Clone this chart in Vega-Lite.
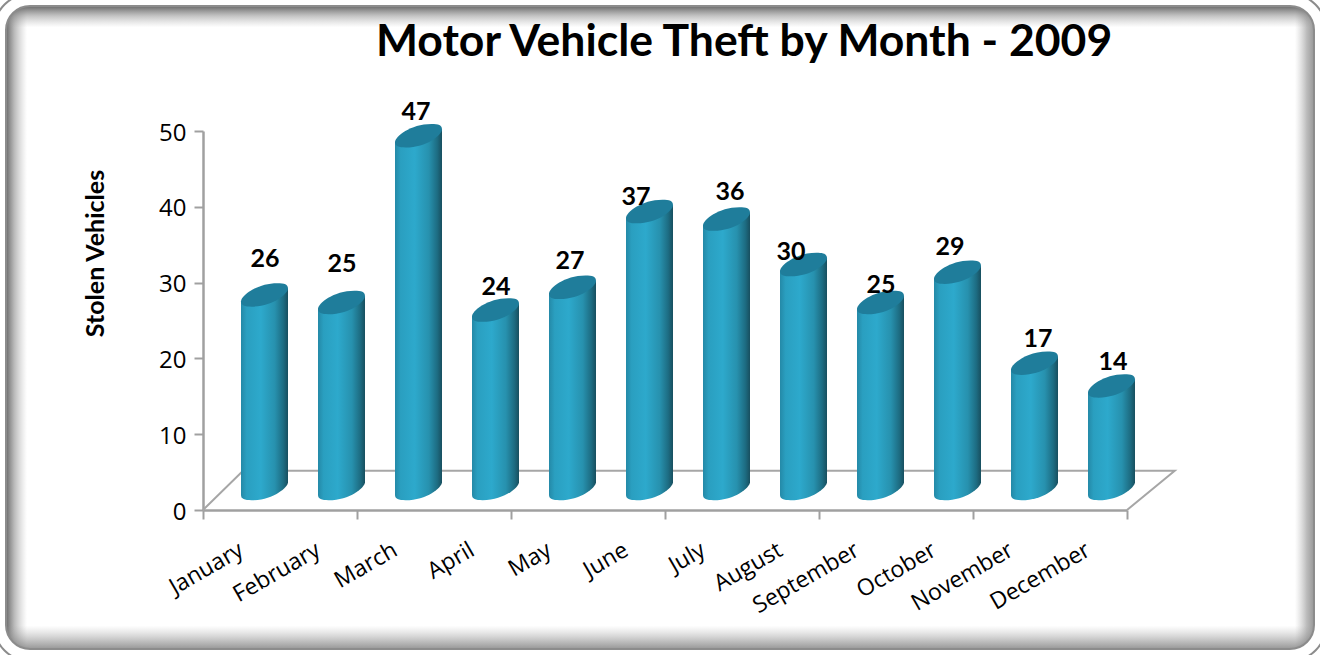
{"$schema":"https://vega.github.io/schema/vega-lite/v6.json","width":1320,"height":655,"padding":0,"autosize":{"type":"none"},"background":"#ffffff","config":{"view":{"stroke":null},"font":"Open Sans"},
"title":{"text":"Motor Vehicle Theft by Month - 2009","anchor":"start","frame":"group","dx":376,"offset":-72,"font":"Lato","fontWeight":"bold","fontSize":44.5,"color":"#000000"},
"data":{"values":[{"month":"January","stolen":26},{"month":"February","stolen":25},{"month":"March","stolen":47},{"month":"April","stolen":24},{"month":"May","stolen":27},{"month":"June","stolen":37},{"month":"July","stolen":36},{"month":"August","stolen":30},{"month":"September","stolen":25},{"month":"October","stolen":29},{"month":"November","stolen":17},{"month":"December","stolen":14}]},
"resolve":{"scale":{"x":"independent"},"axis":{"x":"independent","y":"independent"}},
"layer":[
{"data":{"values":[{}]},"mark":{"type":"rect","cornerRadius":30,"fill":{"gradient":"linear","x1":0,"x2":1,"y1":0,"y2":0,"stops":[{"offset":0,"color":"rgba(90,90,90,0.85)"},{"offset":0.0053,"color":"rgba(90,90,90,0.85)"},{"offset":0.011,"color":"rgba(120,120,120,0.5)"},{"offset":0.0205,"color":"rgba(160,160,160,0)"},{"offset":0.981,"color":"rgba(160,160,160,0)"},{"offset":0.99,"color":"rgba(120,120,120,0.5)"},{"offset":1,"color":"rgba(90,90,90,0.85)"}]}},"encoding":{}},
{"data":{"values":[{}]},"mark":{"type":"rect","cornerRadius":30,"fill":{"gradient":"linear","x1":0,"x2":0,"y1":0,"y2":1,"stops":[{"offset":0,"color":"rgba(90,90,90,0.85)"},{"offset":0.0107,"color":"rgba(90,90,90,0.85)"},{"offset":0.024,"color":"rgba(120,120,120,0.45)"},{"offset":0.042,"color":"rgba(160,160,160,0)"},{"offset":0.955,"color":"rgba(160,160,160,0)"},{"offset":0.98,"color":"rgba(120,120,120,0.5)"},{"offset":1,"color":"rgba(90,90,90,0.85)"}]}},"encoding":{}},
{"data":{"values":[{"corner":1,"across":0,"up":0},{"corner":2,"across":0.52,"up":5.18},{"corner":3,"across":12.62,"up":5.18},{"corner":4,"across":12,"up":0}]},"mark":{"type":"line","color":"#a6a6a6","strokeWidth":2},"encoding":{"order":{"field":"corner"},
"x":{"field":"across","type":"quantitative","scale":{"domain":[0,12],"range":[203,1127],"nice":false,"zero":false},"axis":{"orient":"bottom","offset":-145,"values":[0,2,4,6,8,10,12],"labels":false,"title":null,"grid":false,"domainColor":"#a0a0a0","domainWidth":2.5,"tickColor":"#a0a0a0","tickWidth":2,"tickSize":9}},
"y":{"field":"up","type":"quantitative","scale":{"domain":[0,50],"range":[510,131],"nice":false,"zero":false},"axis":{"orient":"left","offset":-203,"values":[0,10,20,30,40,50],"grid":false,"domainColor":"#a0a0a0","domainWidth":2.5,"tickColor":"#a0a0a0","tickWidth":2,"tickSize":9,"labelFont":"Open Sans","labelFontSize":24,"labelColor":"#000000","labelPadding":8,"labelOffset":2,"title":"Stolen Vehicles","titleFont":"Lato","titleFontWeight":"bold","titleFontSize":25,"titleColor":"#000000","titleAngle":-90,"titleX":-108,"titleY":253,"titleAlign":"center","titleBaseline":"middle"}}}},
{"mark":{"type":"bar","size":47,"xOffset":23,"yOffset":-9,"y2Offset":-33,"fill":{"gradient":"linear","x1":0,"x2":1,"y1":0,"y2":0,"stops":[{"offset":0,"color":"#2489a7"},{"offset":0.12,"color":"#2a9fc0"},{"offset":0.42,"color":"#2da9cc"},{"offset":0.72,"color":"#2791ae"},{"offset":0.9,"color":"#1d6c82"},{"offset":1,"color":"#184f5f"}]}},"encoding":{
"x":{"field":"month","type":"nominal","sort":null,"scale":{"type":"band","range":[203,1127],"paddingInner":0,"paddingOuter":0},"axis":{"orient":"bottom","offset":-145,"ticks":false,"domain":false,"title":null,"labelAngle":-30,"labelAlign":"right","labelBaseline":"middle","labelPadding":38,"labelFont":"Open Sans","labelFontSize":23,"labelColor":"#000000","grid":false}},
"y":{"field":"stolen","type":"quantitative","axis":null},"y2":{"datum":0}}},
{"mark":{"type":"point","filled":true,"opacity":1,"size":2209,"xOffset":23,"yOffset":-21.5,"shape":"M-1,-0.5 L1,-0.5 L1,-0.27 C1,-0.05 0.35,0.5 -0.55,0.5 C-0.85,0.5 -1,0.45 -1,0.27 Z","fill":{"gradient":"linear","x1":0,"x2":1,"y1":0,"y2":0,"stops":[{"offset":0,"color":"#2489a7"},{"offset":0.12,"color":"#2a9fc0"},{"offset":0.42,"color":"#2da9cc"},{"offset":0.72,"color":"#2791ae"},{"offset":0.9,"color":"#1d6c82"},{"offset":1,"color":"#184f5f"}]}},"encoding":{
"x":{"field":"month","type":"nominal","sort":null,"scale":{"type":"band","range":[203,1127],"paddingInner":0,"paddingOuter":0},"axis":null},
"y":{"datum":0,"axis":null}}},
{"mark":{"type":"point","filled":true,"opacity":1,"size":2209,"xOffset":23,"yOffset":-18,"shape":"M-1,0.27 L1,-0.27 L1,0.5 L-1,0.5 Z","fill":{"gradient":"linear","x1":0,"x2":1,"y1":0,"y2":0,"stops":[{"offset":0,"color":"#2489a7"},{"offset":0.12,"color":"#2a9fc0"},{"offset":0.42,"color":"#2da9cc"},{"offset":0.72,"color":"#2791ae"},{"offset":0.9,"color":"#1d6c82"},{"offset":1,"color":"#184f5f"}]}},"encoding":{
"x":{"field":"month","type":"nominal","sort":null,"scale":{"type":"band","range":[203,1127],"paddingInner":0,"paddingOuter":0},"axis":null},
"y":{"field":"stolen","type":"quantitative","axis":null}}},
{"mark":{"type":"point","filled":true,"opacity":1,"size":2209,"xOffset":23,"yOffset":-18,"color":"#1f7d9b","shape":"M-1,0.27 C-1,0.05 -0.35,-0.5 0.55,-0.5 C0.85,-0.5 1,-0.45 1,-0.27 C1,-0.05 0.35,0.5 -0.55,0.5 C-0.85,0.5 -1,0.45 -1,0.27 Z"},"encoding":{
"x":{"field":"month","type":"nominal","sort":null,"scale":{"type":"band","range":[203,1127],"paddingInner":0,"paddingOuter":0},"axis":null},
"y":{"field":"stolen","type":"quantitative","axis":null}}},
{"mark":{"type":"text","font":"Lato","fontWeight":"bold","fontSize":25,"color":"#000000","baseline":"middle","align":"center",
"dx":{"expr":"{January:23.5,February:23.5,March:20.5,April:23.5,May:20.5,June:9.5,July:26.5,August:10.5,September:23.5,October:15.5,November:26.5,December:24.5}[datum.month]"},
"dy":{"expr":"{January:-54,February:-56.5,March:-41.7,April:-41,May:-44,June:-32.5,July:-45,August:-30.6,September:-35.5,October:-43,November:-42,December:-42}[datum.month]"}},"encoding":{
"x":{"field":"month","type":"nominal","sort":null,"scale":{"type":"band","range":[203,1127],"paddingInner":0,"paddingOuter":0},"axis":null},
"y":{"field":"stolen","type":"quantitative","axis":null},"text":{"field":"stolen","type":"quantitative"}}},
{"data":{"values":[{}]},"mark":{"type":"rect","cornerRadius":30,"fillOpacity":0,"stroke":"#8c8c8c","strokeWidth":14},"encoding":{}},
{"data":{"values":[{}]},"mark":{"type":"rect","cornerRadius":30,"fillOpacity":0,"stroke":"#ffffff","strokeWidth":10},"encoding":{}}
]}
